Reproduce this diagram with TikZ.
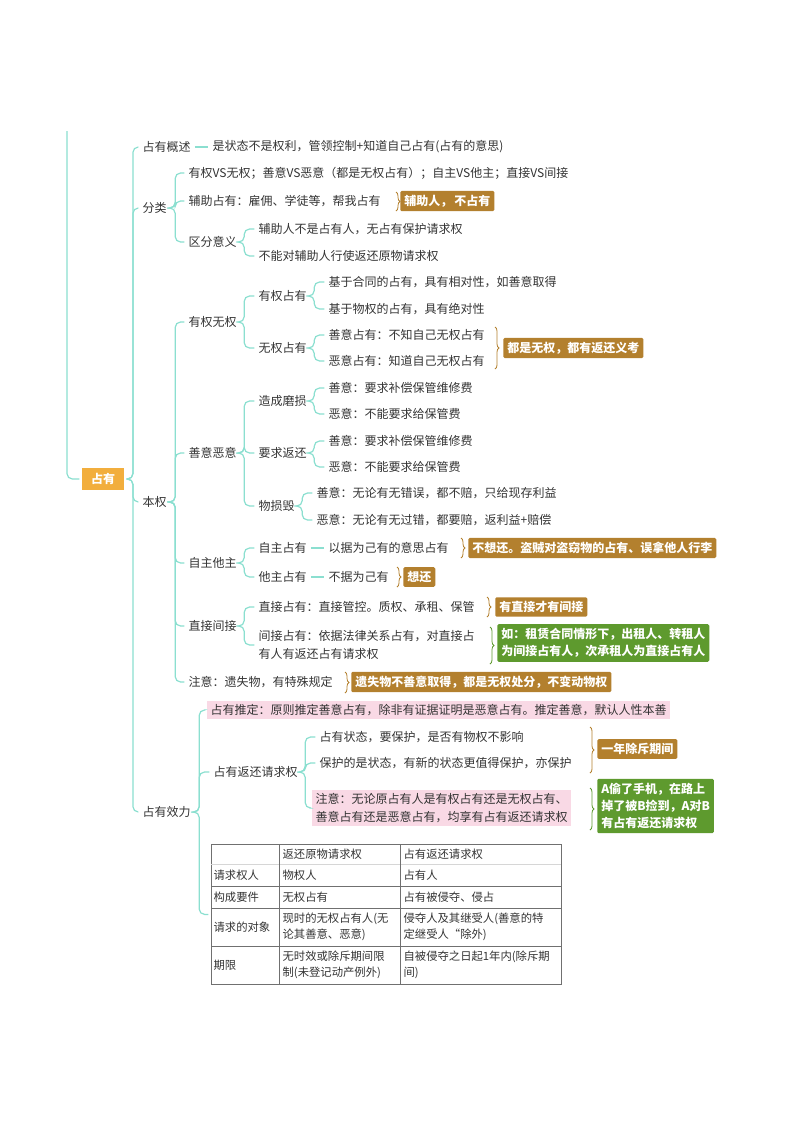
\documentclass[tikz,border=0pt]{standalone}
\usepackage{fontspec}
\setmainfont{Noto Sans CJK SC}
\usetikzlibrary{decorations.pathreplacing}
\definecolor{linkc}{HTML}{8BDFD0}
\definecolor{textc}{HTML}{333333}
\definecolor{rootc}{HTML}{F2AE3D}
\definecolor{brownc}{HTML}{B3802E}
\definecolor{greenc}{HTML}{5E9A2E}
\definecolor{pinkc}{HTML}{F9D9E5}
\tikzset{
  txt/.style={anchor=west,inner sep=1pt,text=textc,align=left,font=\fontsize{9}{13}\selectfont},
  link/.style={draw=linkc,line width=0.9pt,rounded corners=4pt,shorten <=2pt,shorten >=2pt},
  notebox/.style={anchor=west,fill=brownc,text=white,inner sep=3pt,rounded corners=1pt,align=left,font=\fontsize{9}{13}\selectfont\bfseries},
  greenbox/.style={notebox,fill=greenc},
  pinkbox/.style={txt,fill=pinkc,inner sep=2.5pt},
  brace/.style={decorate,decoration={brace,amplitude=3pt},draw=#1,line width=0.6pt},
  cell/.style={txt,font=\fontsize{8.5}{12}\selectfont}
}
\begin{document}
\begin{tikzpicture}[x=0.75pt,y=-0.75pt]
\useasboundingbox (0,0) rectangle (800,1132);
% root
\node[fill=rootc,text=white,font=\fontsize{9}{11}\selectfont\bfseries,minimum width=31pt,minimum height=17pt,inner sep=0pt] (root) at (103,479) {占有};
\coordinate (top) at (67,131);
\draw[link,shorten <=0pt] (top) |- (root.west);
% first level
\node[txt] (gs) at (141,147) {占有概述};
\node[txt] (gsd) at (211,147) {是状态不是权利，管领控制+知道自己占有(占有的意思)};
\node[txt] (fl) at (141,208) {分类};
\node[txt] (bq) at (141,502) {本权};
\node[txt] (xl) at (141,812) {占有效力};
\foreach \c in {gs,fl,bq,xl} \draw[link] (root.east) -- ++(9,0) |- (\c.west);
\draw[link] (gs.east) -- (gsd.west);
% fen lei
\node[txt] (fl1) at (187,173) {有权VS无权；善意VS恶意（都是无权占有）；自主VS他主；直接VS间接};
\node[txt] (fl2) at (187,201) {辅助占有：雇佣、学徒等，帮我占有};
\node[txt] (fl3) at (187,242) {区分意义};
\node[txt] (fl31) at (257,229) {辅助人不是占有人，无占有保护请求权};
\node[txt] (fl32) at (257,256) {不能对辅助人行使返还原物请求权};
\foreach \c in {fl1,fl2,fl3} \draw[link] (fl.east) -- ++(7,0) |- (\c.west);
\foreach \c in {fl31,fl32} \draw[link] (fl3.east) -- ++(6,0) |- (\c.west);
\draw[brace=brownc] (396,192) -- (396,211);
\node[notebox] (nb1) at (400,201) {辅助人，\,不占有};
% ben quan
\node[txt] (yq) at (187,322) {有权无权};
\node[txt] (sy) at (187,453) {善意恶意};
\node[txt] (zz) at (187,563) {自主他主};
\node[txt] (zj) at (187,626) {直接间接};
\node[txt] (zy) at (187,682) {注意：遗失物，有特殊规定};
\foreach \c in {yq,sy,zz,zj,zy} \draw[link] (bq.east) -- ++(7,0) |- (\c.west);
% you quan wu quan
\node[txt] (yqz) at (257,296) {有权占有};
\node[txt] (wqz) at (257,348) {无权占有};
\foreach \c in {yqz,wqz} \draw[link] (yq.east) -- ++(6,0) |- (\c.west);
\node[txt] (yq1) at (327,282) {基于合同的占有，具有相对性，如善意取得};
\node[txt] (yq2) at (327,309) {基于物权的占有，具有绝对性};
\node[txt] (wq1) at (327,335) {善意占有：不知自己无权占有};
\node[txt] (wq2) at (327,361) {恶意占有：知道自己无权占有};
\foreach \c in {yq1,yq2} \draw[link] (yqz.east) -- ++(6,0) |- (\c.west);
\foreach \c in {wq1,wq2} \draw[link] (wqz.east) -- ++(6,0) |- (\c.west);
\draw[brace=brownc] (495,327) -- (495,369);
\node[notebox] (nb2) at (503,348) {都是无权，都有返还义考};
% shan yi e yi
\node[txt] (mh) at (257,401) {造成磨损};
\node[txt] (fh) at (257,453) {要求返还};
\node[txt] (sh) at (257,506) {物损毁};
\foreach \c in {mh,fh,sh} \draw[link] (sy.east) -- ++(6,0) |- (\c.west);
\node[txt] (mh1) at (327,388) {善意：要求补偿保管维修费};
\node[txt] (mh2) at (327,414) {恶意：不能要求给保管费};
\node[txt] (fh1) at (327,441) {善意：要求补偿保管维修费};
\node[txt] (fh2) at (327,467) {恶意：不能要求给保管费};
\node[txt] (sh1) at (315,493) {善意：无论有无错误，都不赔，只给现存利益};
\node[txt] (sh2) at (315,520) {恶意：无论有无过错，都要赔，返利益+赔偿};
\foreach \c in {mh1,mh2} \draw[link] (mh.east) -- ++(6,0) |- (\c.west);
\foreach \c in {fh1,fh2} \draw[link] (fh.east) -- ++(6,0) |- (\c.west);
\foreach \c in {sh1,sh2} \draw[link] (sh.east) -- ++(6,0) |- (\c.west);
% zi zhu ta zhu
\node[txt] (zzz) at (257,548) {自主占有};
\node[txt] (tzz) at (257,577) {他主占有};
\foreach \c in {zzz,tzz} \draw[link] (zz.east) -- ++(6,0) |- (\c.west);
\node[txt] (zzd) at (327,548) {以据为己有的意思占有};
\node[txt] (tzd) at (327,577) {不据为己有};
\draw[link] (zzz.east) -- (zzd.west);
\draw[link] (tzz.east) -- (tzd.west);
\draw[brace=brownc] (461,538) -- (461,558);
\node[notebox] (nb3) at (468,548) {不想还。盗贼对盗窃物的占有、误拿他人行李};
\draw[brace=brownc] (397,567) -- (397,587);
\node[notebox] (nb4) at (403,577) {想还};
% zhi jie jian jie
\node[txt] (zjz) at (257,607) {直接占有：直接管控。质权、承租、保管};
\node[txt] (jjz) at (257,645) {间接占有：依据法律关系占有，对直接占\\有人有返还占有请求权};
\foreach \c in {zjz,jjz} \draw[link] (zj.east) -- ++(6,0) |- (\c.west);
\draw[brace=brownc] (487,597) -- (487,617);
\node[notebox] (nb5) at (495,607) {有直接才有间接};
\draw[brace=greenc] (490,627) -- (490,664);
\node[greenbox] (nb6) at (497,643) {如：租赁合同情形下，出租人、转租人\\为间接占有人，次承租人为直接占有人};
% zhu yi
\draw[brace=brownc] (345,672) -- (345,693);
\node[notebox] (nb7) at (351,682) {遗失物不善意取得，都是无权处分，不变动物权};
% zhan you xiao li
\node[pinkbox] (td) at (207,710) {占有推定：原则推定善意占有，除非有证据证明是恶意占有。推定善意，默认人性本善};
\node[txt] (fhq) at (212,772) {占有返还请求权};
\node[draw=textc!70,line width=0.6pt,minimum width=262.5pt,minimum height=105pt,inner sep=0pt,anchor=north west] (tbl) at (211,844) {};
\foreach \c in {td,fhq,tbl} \draw[link] (xl.east) -- ++(7,0) |- (\c.west);
\node[txt] (fa) at (318,737) {占有状态，要保护，是否有物权不影响};
\node[txt] (fb) at (318,763) {保护的是状态，有新的状态更值得保护，亦保护};
\node[pinkbox] (fc) at (312,808) {注意：无论原占有人是有权占有还是无权占有、\\善意占有还是恶意占有，均享有占有返还请求权};
\foreach \c in {fa,fb,fc} \draw[link] (fhq.east) -- ++(6,0) |- (\c.west);
\draw[brace=brownc] (590,727) -- (590,773);
\node[notebox] (nb8) at (597,749) {一年除斥期间};
\draw[brace=greenc] (590,788) -- (590,830);
\node[greenbox] (nb9) at (597,806) {A偷了手机，在路上\\掉了被B捡到，A对B\\有占有返还请求权};
% table
\foreach \y in {886,908,946} \draw[textc!70,line width=0.6pt] (211,\y) -- (561,\y);
\draw[textc!20,line width=0.4pt] (211,864) -- (561,864);
\foreach \x in {279,400} \draw[textc!70,line width=0.6pt] (\x,844) -- (\x,984);
\node[cell] (c01) at (281,854) {返还原物请求权};
\node[cell] (c02) at (402,854) {占有返还请求权};
\node[cell] (c10) at (212,875) {请求权人};
\node[cell] (c11) at (281,875) {物权人};
\node[cell] (c12) at (402,875) {占有人};
\node[cell] (c20) at (212,897) {构成要件};
\node[cell] (c21) at (281,897) {无权占有};
\node[cell] (c22) at (402,897) {占有被侵夺、侵占};
\node[cell] (c30) at (212,927) {请求的对象};
\node[cell] (c31) at (281,927) {现时的无权占有人(无\\论其善意、恶意)};
\node[cell] (c32) at (402,927) {侵夺人及其继受人(善意的特\\定继受人“除外)};
\node[cell] (c40) at (212,965) {期限};
\node[cell] (c41) at (281,965) {无时效或除斥期间限\\制(未登记动产例外)};
\node[cell] (c42) at (402,965) {自被侵夺之日起1年内(除斥期\\间)};
\end{tikzpicture}
\end{document}
